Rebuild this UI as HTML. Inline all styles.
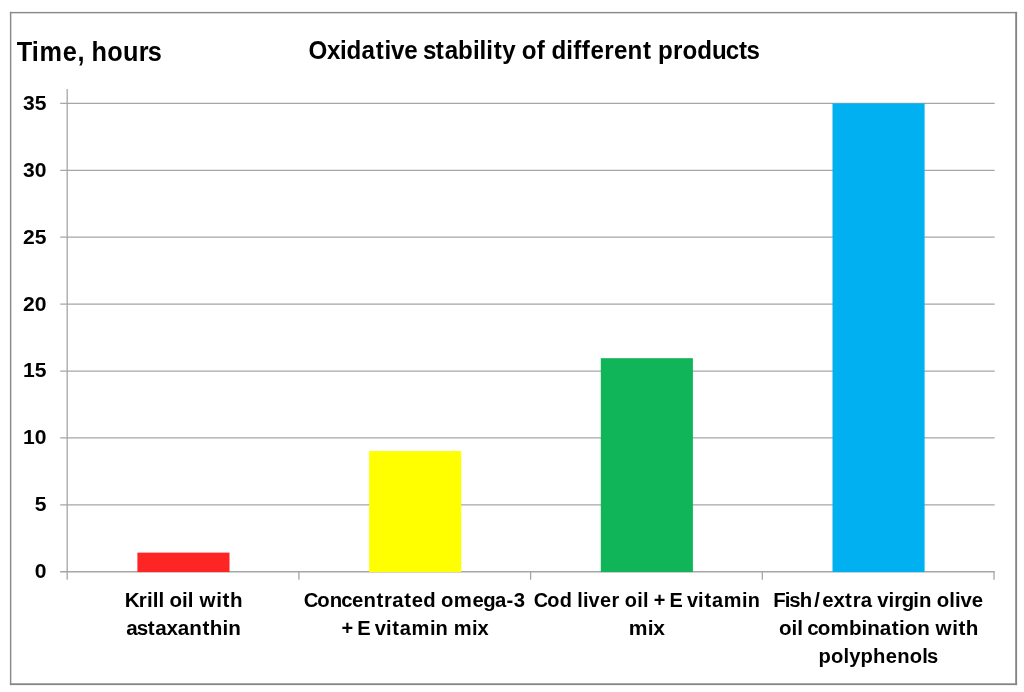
<!DOCTYPE html>
<html lang="en">
<head>
<meta charset="utf-8">
<title>Oxidative stability of different products</title>
<style>
html,body{margin:0;padding:0;background:#fff;}
body{width:1024px;height:692px;overflow:hidden;font-family:"Liberation Sans",sans-serif;}
svg{display:block}
svg text{font-family:"Liberation Sans",sans-serif;font-weight:bold;fill:#000;}
</style>
</head>
<body>
<svg width="1024" height="692" viewBox="0 0 1024 692">
<rect x="0" y="0" width="1024" height="692" fill="#ffffff"/>
<!-- chart frame -->
<rect x="9.9" y="11.9" width="1007.2" height="1.45" fill="#8a8a8a"/>
<rect x="9.9" y="11.9" width="1.45" height="673.2" fill="#8a8a8a"/>
<rect x="1015.2" y="11.9" width="1.9" height="673.2" fill="#858585"/>
<rect x="9.9" y="683.3" width="1007.2" height="1.8" fill="#858585"/>
<g>
<line x1="60.2" y1="103.40" x2="994.7" y2="103.40" stroke="#a6a6a6" stroke-width="1.3"/>
<line x1="60.2" y1="170.31" x2="994.7" y2="170.31" stroke="#a6a6a6" stroke-width="1.3"/>
<line x1="60.2" y1="237.22" x2="994.7" y2="237.22" stroke="#a6a6a6" stroke-width="1.3"/>
<line x1="60.2" y1="304.13" x2="994.7" y2="304.13" stroke="#a6a6a6" stroke-width="1.3"/>
<line x1="60.2" y1="371.04" x2="994.7" y2="371.04" stroke="#a6a6a6" stroke-width="1.3"/>
<line x1="60.2" y1="437.95" x2="994.7" y2="437.95" stroke="#a6a6a6" stroke-width="1.3"/>
<line x1="60.2" y1="504.86" x2="994.7" y2="504.86" stroke="#a6a6a6" stroke-width="1.3"/>
<line x1="60.2" y1="571.77" x2="994.7" y2="571.77" stroke="#a6a6a6" stroke-width="1.3"/>
<line x1="67.2" y1="89.1" x2="67.2" y2="579.8" stroke="#a6a6a6" stroke-width="1.3"/>
<line x1="298.90" y1="571.77" x2="298.90" y2="579.8" stroke="#a6a6a6" stroke-width="1.3"/>
<line x1="530.60" y1="571.77" x2="530.60" y2="579.8" stroke="#a6a6a6" stroke-width="1.3"/>
<line x1="762.30" y1="571.77" x2="762.30" y2="579.8" stroke="#a6a6a6" stroke-width="1.3"/>
<line x1="994.00" y1="571.77" x2="994.00" y2="579.8" stroke="#a6a6a6" stroke-width="1.3"/>
<rect x="137.40" y="552.63" width="92.1" height="19.44" fill="#fe2525"/>
<rect x="369.10" y="451.06" width="92.1" height="121.01" fill="#ffff00"/>
<rect x="600.80" y="358.19" width="92.1" height="213.88" fill="#10b459"/>
<rect x="832.50" y="103.40" width="92.1" height="468.67" fill="#00b0f0"/>
</g>
<g>
<text transform="translate(0 61.00) scale(0.9371 1)" font-size="27.0" x="17.77 33.81 42.07 67.10 82.73 90.28 97.67 114.42 131.18 148.08 157.59" y="0">Time, hours</text>
<text transform="translate(0 58.50) scale(0.9554 1)" font-size="25.3" x="323.03 342.14 355.79 362.80 378.29 393.18 402.38 409.18 423.20 437.20 442.65 456.18 465.42 479.52 494.96 502.02 509.07 516.88 525.83 539.40 546.15 561.93 570.41 577.15 592.60 599.97 609.05 618.00 632.45 642.67 656.91 673.10 682.03 688.76 704.38 714.40 729.82 745.23 759.63 773.44 781.33" y="0">Oxidative stability of different products</text>
<text transform="translate(0 109.80) scale(1.0393 1)" font-size="20.3" x="22.26 33.55" y="0">35</text>
<text transform="translate(0 176.71) scale(1.0393 1)" font-size="20.3" x="22.26 33.55" y="0">30</text>
<text transform="translate(0 243.62) scale(1.0393 1)" font-size="20.3" x="22.26 33.55" y="0">25</text>
<text transform="translate(0 310.53) scale(1.0393 1)" font-size="20.3" x="22.26 33.55" y="0">20</text>
<text transform="translate(0 377.44) scale(1.0393 1)" font-size="20.3" x="22.26 33.55" y="0">15</text>
<text transform="translate(0 444.35) scale(1.0393 1)" font-size="20.3" x="22.26 33.55" y="0">10</text>
<text transform="translate(0 511.26) scale(1.0393 1)" font-size="20.3" x="33.55" y="0">5</text>
<text transform="translate(0 578.17) scale(1.0393 1)" font-size="20.3" x="33.55" y="0">0</text>
<text transform="translate(0 607.30) scale(0.9799 1)" font-size="21.0" x="127.42 141.67 150.00 155.85 161.70 167.32 172.92 185.75 191.60 197.22 203.54 220.60 227.07 234.68" y="0">Krill oil with</text>
<text transform="translate(0 635.40) scale(0.9825 1)" font-size="21.0" x="128.46 139.11 150.36 158.05 169.42 180.80 192.52 205.99 213.61 226.45 232.29" y="0">astaxanthin</text>
<text transform="translate(0 607.30) scale(0.9683 1)" font-size="21.0" x="313.68 327.61 340.47 352.48 363.51 375.38 388.87 396.69 405.10 417.50 425.33 437.20 449.83 455.47 468.72 487.98 499.10 511.26 523.17 530.56" y="0">Concentrated omega-3</text>
<text transform="translate(0 635.40) scale(0.9565 1)" font-size="21.0" x="357.03 369.01 373.57 386.30 391.84 403.47 410.06 417.89 430.23 449.47 455.44 468.18 474.35 493.59 499.20" y="0">+ E vitamin mix</text>
<text transform="translate(0 607.30) scale(0.9482 1)" font-size="21.0" x="563.01 577.21 590.32 603.13 608.89 614.88 620.73 632.66 644.90 653.16 658.99 672.05 678.04 683.80 689.43 701.48 706.11 718.91 724.53 736.22 742.87 750.79 763.25 782.60 788.65" y="0">Cod liver oil + E vitamin</text>
<text transform="translate(0 635.40) scale(1.0026 1)" font-size="21.0" x="627.04 646.08 651.55" y="0">mix</text>
<text transform="translate(0 607.30) scale(0.9691 1)" font-size="21.0" x="797.82 809.75 814.54 825.17 840.24 848.49 860.01 872.01 879.83 888.24 899.78 905.23 916.76 922.78 930.39 942.50 948.37 961.00 966.64 979.52 985.40 991.08 1002.77" y="0">Fish/extra virgin olive</text>
<text transform="translate(0 635.40) scale(0.9818 1)" font-size="21.0" x="793.44 806.17 811.97 817.53 822.21 832.92 845.93 864.78 877.51 883.24 895.96 908.22 915.79 921.53 934.20 946.70 952.90 969.84 976.25 983.75" y="0">oil combination with</text>
<text transform="translate(0 663.30) scale(0.9614 1)" font-size="21.0" x="851.38 864.43 877.44 883.26 894.96 908.00 921.22 933.28 946.33 959.35 964.26" y="0">polyphenols</text>
</g>
</svg>
</body>
</html>
